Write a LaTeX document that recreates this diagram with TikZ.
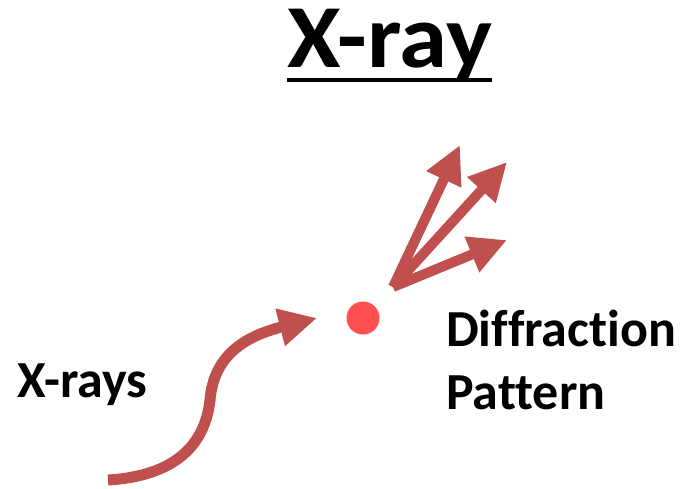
\documentclass[tikz,border=0pt]{standalone}
\usepackage{fontspec}
\setmainfont{Carlito}[Ligatures=NoCommon]
\usetikzlibrary{arrows.meta,calc}
\definecolor{arr}{HTML}{C0504D}
\definecolor{dotc}{HTML}{FF5050}
\tikzset{
  ray/.style={draw=arr, line width=11pt, -{Triangle[length=38pt,width=36pt]}},
  lbl/.style={font=\bfseries\fontsize{52}{63}\selectfont, inner sep=0pt, align=left}
}
\begin{document}
\begin{tikzpicture}[x=1pt,y=-1pt]
\useasboundingbox (0,0) rectangle (684,488);
% title
\node[font=\bfseries\fontsize{90}{100}\selectfont, inner sep=0pt, anchor=base west, xscale=1.08] (title) at (287,67) {X-ray};
\draw[line width=4pt] ($(title.base west)+(0,13)$) -- ($(title.base east)+(0,13)$);
% dot
\node[circle, fill=dotc, minimum size=33pt, inner sep=0pt] (dot) at (363,318) {};
% labels
\node[lbl, anchor=base west] (xr) at (17,397) {X-rays};
\node[lbl, anchor=base west] (dp) at (446,409) {Diffraction\\Pattern};
% incoming curved arrow
\coordinate (s) at (108,480);
\coordinate (m) at (210,400);
\coordinate (e) at (317,318);
\draw[ray] (s) .. controls (175,476) and (205,445) .. (m) .. controls (214,352) and (250,335) .. (e);
% scattered rays
\coordinate (o) at (393,287);
\coordinate (t1) at (460,145);
\coordinate (t2) at (507,162);
\coordinate (t3) at (507,240);
\draw[ray, line width=10pt] (o) -- (t1);
\draw[ray, line width=10pt] (o) -- (t2);
\draw[ray, line width=10pt] (o) -- (t3);
\end{tikzpicture}
\end{document}
